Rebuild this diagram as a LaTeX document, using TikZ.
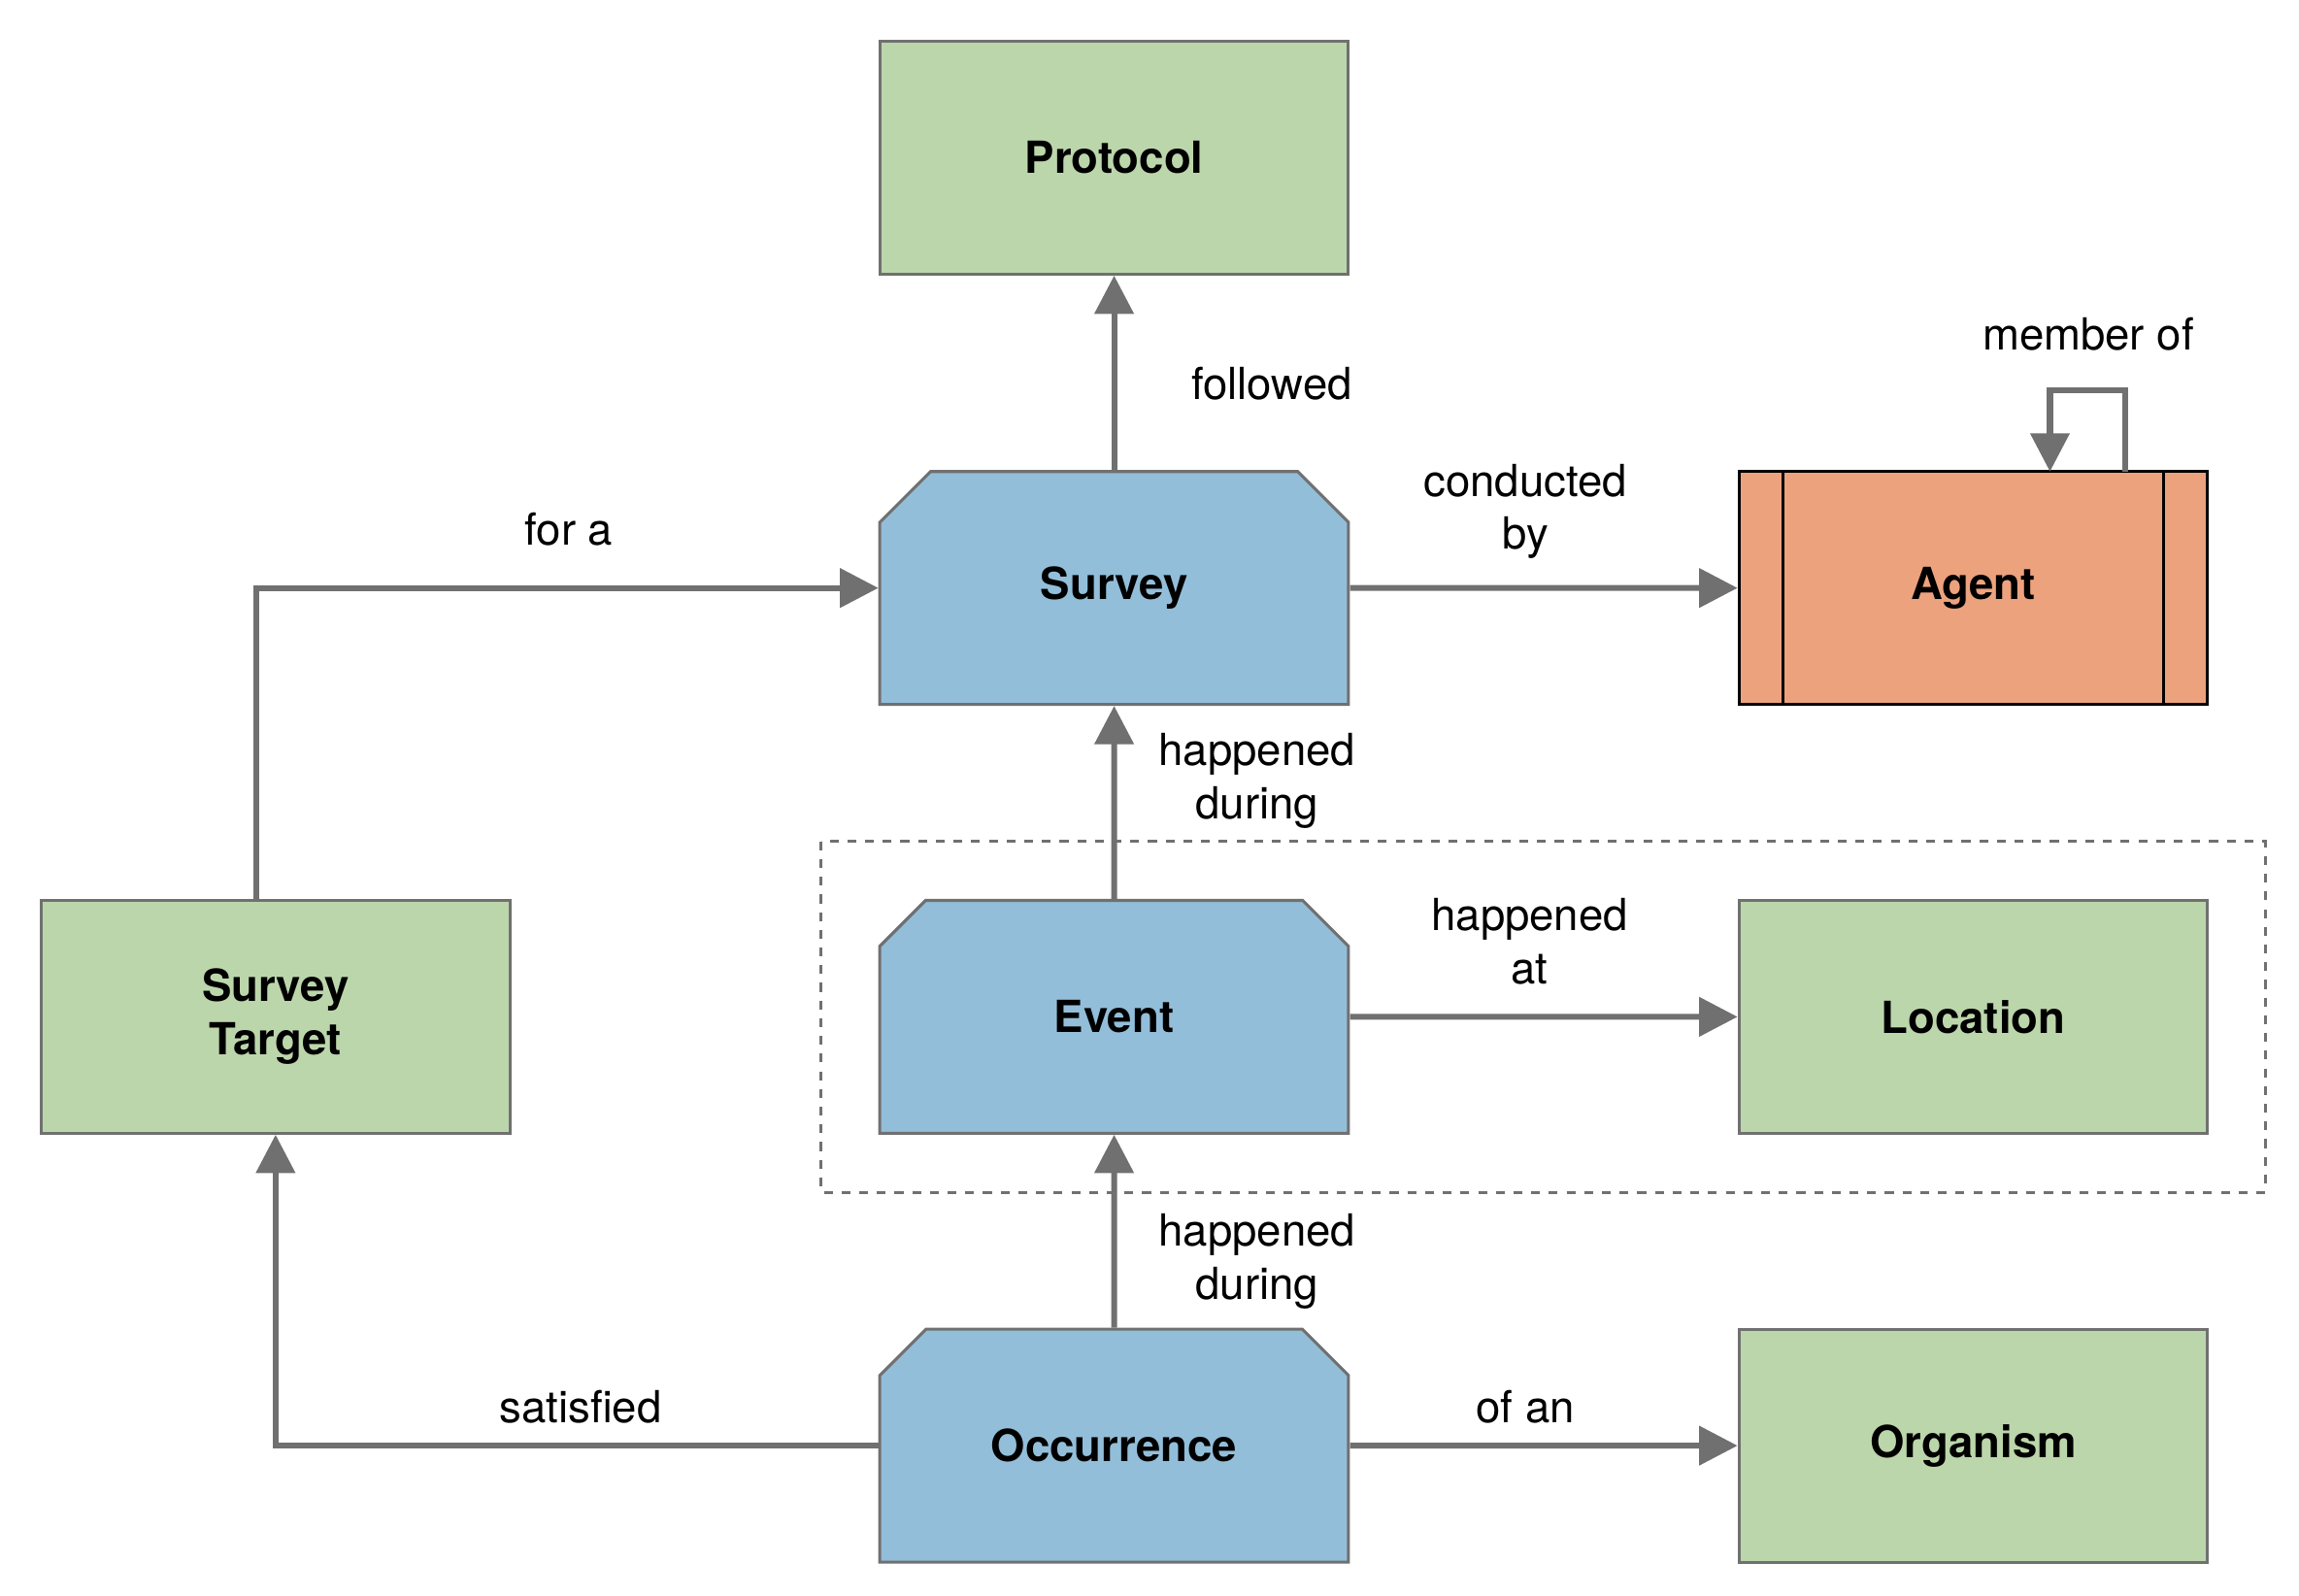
\documentclass[tikz,border=0pt]{standalone}
\usepackage{fontspec}
\setmainfont{TeX Gyre Heros}
\usetikzlibrary{arrows.meta,shapes.misc}
\definecolor{entgreen}{HTML}{BCD6AB}
\definecolor{actblue}{HTML}{93BED9}
\definecolor{agorange}{HTML}{EDA27E}
\definecolor{linkgray}{HTML}{707070}
\tikzstyle{entity}=[draw=linkgray, line width=1pt, fill=entgreen, minimum width=159pt, minimum height=79pt, inner sep=0, font=\fontsize{15}{18}\selectfont\bfseries, align=center]
\tikzstyle{activity}=[entity, fill=actblue, chamfered rectangle, chamfered rectangle corners={north west, north east}, chamfered rectangle xsep=15pt, chamfered rectangle ysep=10pt]
\tikzstyle{agent}=[entity, fill=agorange, draw=black]
\tikzstyle{link}=[draw=linkgray, line width=2pt, -{Triangle[length=13pt, width=13pt]}]
\tikzstyle{rel}=[font=\fontsize{15}{18}\selectfont, align=center, inner sep=0]
\begin{document}
\begin{tikzpicture}[x=0.5pt, y=-0.5pt]
        \useasboundingbox (0, 0) rectangle (1560, 1083);
        \draw[linkgray, dashed, line width=1pt] (557, 571) rectangle (1537, 809);
        \node[entity]   (protocol) at (756, 107) {Protocol};
        \node[activity] (survey)   at (756, 399) {Survey};
        \node[agent]    (agent)    at (1339, 399) {Agent};
        \node[entity]   (target)   at (187, 690) {Survey\\Target};
        \node[activity] (event)    at (756, 690) {Event};
        \node[entity]   (location) at (1339, 690) {Location};
        \node[activity] (occur)    at (756, 981) {Occurrence};
        \node[entity]   (organism) at (1339, 981) {Organism};
        \draw[line width=1pt] (agent.north west) ++(31, 0) -- +(0, 158);
        \draw[line width=1pt] (agent.north east) ++(-31, 0) -- +(0, 158);
        \coordinate (loopA) at (1442, 320);
        \coordinate (loopB) at (1391, 320);
        \coordinate (forA)  at (174, 611);
        \draw[link] (survey) -- (protocol);
        \draw[link] (survey) -- (agent);
        \draw[link] (loopA) |- (1417, 265) -| (loopB);
        \draw[link] (forA) |- (survey.west);
        \draw[link] (event) -- (survey);
        \draw[link] (event) -- (location);
        \draw[link] (occur) -- (event);
        \draw[link] (occur) -- (organism);
        \draw[link] (occur.west) -| (target.south);
        \node[rel] (l1) at (863, 260) {followed};
        \node[rel] (l2) at (1035, 347) {conducted\\by};
        \node[rel] (l3) at (1417, 227) {member of};
        \node[rel] (l4) at (386, 359) {for a};
        \node[rel] (l5) at (853, 530) {happened\\during};
        \node[rel] (l6) at (1038, 639) {happened\\at};
        \node[rel] (l7) at (853, 856) {happened\\during};
        \node[rel] (l8) at (394, 955) {satisfied};
        \node[rel] (l9) at (1035, 955) {of an};
\end{tikzpicture}
\end{document}
